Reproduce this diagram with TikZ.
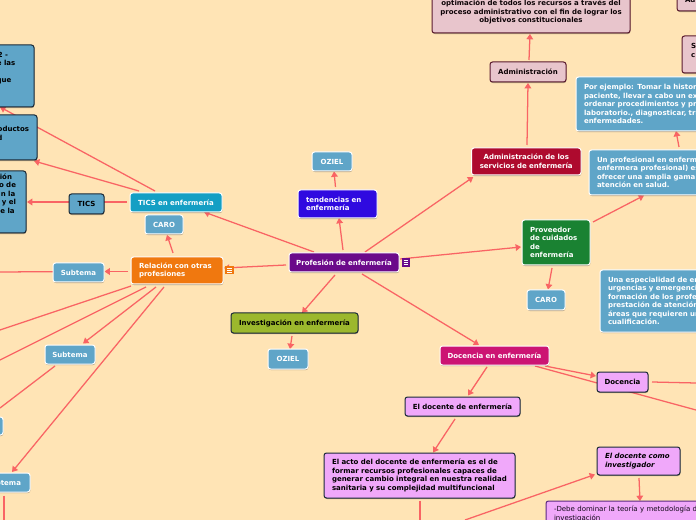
\documentclass[tikz,border=0pt]{standalone}
\usepackage{fontspec}
\setmainfont{DejaVu Sans}
\usetikzlibrary{arrows.meta,shadows,calc}
\pgfdeclarelayer{bg}
\pgfsetlayers{bg,main}
\definecolor{paper}{HTML}{FFE4B5}
\definecolor{conncol}{HTML}{F96464}
\definecolor{bluebox}{HTML}{5FA5C8}
\definecolor{ticsbox}{HTML}{149FC4}
\definecolor{orangebox}{HTML}{F0780F}
\definecolor{purplebox}{HTML}{6B0A8A}
\definecolor{violetbox}{HTML}{2F0AE0}
\definecolor{redbox}{HTML}{AE0A2E}
\definecolor{greenbox}{HTML}{1A8232}
\definecolor{magbox}{HTML}{CC1473}
\definecolor{olivebox}{HTML}{9CB82D}
\definecolor{pinkbox}{HTML}{F0A8FA}
\definecolor{rosebox}{HTML}{E8C5CC}
\definecolor{roseedge}{HTML}{5A1A2E}
\definecolor{pinkedge}{HTML}{5A2A80}
\definecolor{darkedge}{HTML}{1A2A38}
\tikzset{
  x=0.75pt,y=-0.75pt,
  box/.style={rectangle,rounded corners=1.9pt,inner sep=0pt,line width=0.75pt,
    font=\fontsize{5.25pt}{6.4pt}\selectfont\bfseries,
    drop shadow={shadow xshift=0.3pt,shadow yshift=-0.8pt,opacity=.3,fill=black}},
  lightbox/.style={box,draw=white,text=white},
  darkbox/.style={box,draw=darkedge,text=black},
  conn/.style={draw=conncol,line width=0.95pt,-{Triangle[width=5pt,length=4pt]}},
  plainconn/.style={draw=conncol,line width=0.95pt},
  icon/.style={rectangle,inner sep=0pt,minimum width=6.2pt,minimum height=6.2pt,draw=none},
  iconbar/.style={draw=white,line width=0.65pt}
}
% name, x1,y1,x2,y2, pad, style, text
\newcommand{\bx}[8]{%
  \pgfmathsetmacro\bxcx{(#2+#4)/2}%
  \pgfmathsetmacro\bxcy{(#3+#5)/2}%
  \pgfmathsetmacro\bxw{(#4-#2)*0.75}%
  \pgfmathsetmacro\bxh{(#5-#3)*0.75}%
  \pgfmathsetmacro\bxt{(#4-#2-2*#6)*0.75}%
  \node[minimum width=\bxw pt,minimum height=\bxh pt,text width=\bxt pt,#7] (#1) at (\bxcx,\bxcy) {#8};}
% from node + offset to node + offset
\newcommand{\lk}[5][conn]{\draw[#1] ([shift={(#3)}]#2.center) -- ([shift={(#5)}]#4.center);}
\newcommand{\ico}[1]{\foreach \iy in {-2,0,2} \draw[iconbar] ([shift={(-2.4,\iy)}]#1.center) -- ([shift={(2.4,\iy)}]#1.center);}
\begin{document}
\begin{tikzpicture}
\useasboundingbox (0,0) rectangle (696,520);
\begin{scope}
\clip (0,0) rectangle (696,520);
% top
\bx{goal}{432}{-12}{630}{33}{6}{darkbox,draw=roseedge,fill=rosebox,text=black!85!roseedge,align=center}{\mbox{}\\optimación de todos los recursos a través del\\proceso administrativo con el fin de lograr los\\objetivos constitucionales}
\bx{adm}{490}{62}{566}{82}{3}{darkbox,draw=roseedge,fill=rosebox,text=black!85!roseedge,align=center}{Administración}
\bx{admserv}{471.5}{148}{581}{175}{3}{lightbox,fill=redbox,align=center}{Administración de los\\servicios de enfermería}
\bx{cornerA}{677}{-14}{760}{11}{8}{darkbox,draw=roseedge,fill=rosebox,text=black!85!roseedge,align=left}{\mbox{}\\Ad}
\bx{cornerS}{682}{36}{760}{73}{9}{darkbox,draw=roseedge,fill=rosebox,text=black!85!roseedge,align=left}{S\\c\\\mbox{}}
\bx{ejemplo}{576}{77}{800}{131}{8}{lightbox,fill=bluebox,align=left}{Por ejemplo: Tomar la historia\\paciente, llevar a cabo un exa\\ordenar procedimientos y pru\\laboratorio., diagnosticar, trat\\enfermedades.}
\bx{profesional}{589}{150}{800}{195}{8}{lightbox,fill=bluebox,align=left}{Un profesional en enferm\\enfermera profesional) es\\ofrecer una amplia gama\\atención en salud.}
\bx{proveedor}{522}{220}{590}{265}{8}{lightbox,fill=greenbox,align=left}{Proveedor\\de cuidados\\de\\enfermería}
\bx{caroR}{527}{290}{565}{310}{2}{lightbox,fill=bluebox,align=center}{CARO}
\bx{especial}{600}{270}{800}{332}{8}{lightbox,fill=bluebox,align=left}{Una especialidad de enf\\urgencias y emergencia\\formación de los profes\\prestación de atención\\áreas que requieren un\\cualificación.}
% centre
\bx{prof}{289}{253}{399}{272}{2}{lightbox,fill=purplebox,align=center}{Profesión de enfermería}
\bx{tend}{298}{190}{377}{218}{8}{lightbox,fill=violetbox,align=left}{tendencias en\\enfermería}
\bx{ozielT}{312}{152}{352}{171}{2}{lightbox,fill=bluebox,align=center}{OZIEL}
\bx{inv}{231}{313}{358}{333}{2}{darkbox,fill=olivebox,align=center}{Investigación en enfermería}
\bx{ozielB}{268}{349}{308}{369}{2}{lightbox,fill=bluebox,align=center}{OZIEL}
\node[icon,fill=purplebox] (icoP) at (406,262.5) {};
\node[icon,fill=orangebox] (icoO) at (229.5,270) {};
\ico{icoP}
\ico{icoO}
% docencia
\bx{docen}{440}{346}{549}{365}{2}{lightbox,fill=magbox,align=center}{Docencia en enfermería}
\bx{doc}{597}{372}{648}{392}{2}{darkbox,fill=pinkbox,align=center}{Docencia}
\bx{eldoc}{405}{397}{520}{416}{2}{darkbox,fill=pinkbox,align=center}{El docente de enfermería}
\bx{acto}{324}{453}{515}{498}{8}{darkbox,fill=pinkbox,align=left}{El acto del docente de enfermería es el de\\formar recursos profesionales capaces de\\generar cambio integral en nuestra realidad\\sanitaria y su complejidad multifuncional}
\bx{invest}{597}{447}{680}{475}{8}{darkbox,fill=pinkbox,align=left}{\itshape El docente como\\\itshape investigador}
\bx{debe}{546}{501}{800}{527}{8}{darkbox,draw=pinkedge,fill=pinkbox,font=\fontsize{5.25pt}{6.4pt}\selectfont,text=black!80!pinkedge,align=left}{-Debe dominar la teoría y metodología de\\investigación}
% left
\bx{ticsenf}{130}{193}{222}{212}{2}{lightbox,fill=ticsbox,align=center}{TICS en enfermería}
\bx{caroL}{145}{215}{183}{234}{2}{lightbox,fill=bluebox,align=center}{CARO}
\bx{tics}{69}{194}{104}{214}{2}{darkbox,fill=bluebox,align=center}{TICS}
\bx{rel}{131}{257}{223}{284}{8}{lightbox,fill=orangebox,align=left}{Relación con otras\\profesiones}
\bx{subA}{53}{263}{104}{282}{2}{lightbox,fill=bluebox,align=center}{Subtema}
\bx{subB}{45}{345}{95}{364}{2}{lightbox,fill=bluebox,align=center}{Subtema}
\bx{subC}{-30}{473}{30}{492}{2}{lightbox,fill=bluebox,align=right}{Subtema\kern5.25pt}
\bx{stub}{-40}{417}{3}{435}{2}{lightbox,fill=bluebox,align=center}{}
\bx{leftA}{-90}{45}{34}{107}{2}{darkbox,fill=bluebox,align=right}{2 -\kern18pt\\e las\kern12.5pt\\\mbox{}\\que\kern15.5pt\\\mbox{}\\\mbox{}}
\bx{leftB}{-90}{115}{37}{160}{2}{darkbox,fill=bluebox,align=right}{oductos\kern4.5pt\\d\kern24.5pt\\\mbox{}}
\bx{leftC}{-90}{171}{26}{233}{2}{darkbox,fill=bluebox,align=right}{ión\kern9pt\\o de\kern6pt\\n la\kern6.5pt\\y el\kern6pt\\e la\kern7pt\\\mbox{}\\\mbox{}}
\end{scope}
\coordinate (offA) at (0,272);
\coordinate (offB) at (0,330);
\coordinate (offC) at (0,360);
\coordinate (offD) at (0,408);
\coordinate (offE) at (4,520);
\coordinate (offF) at (696,410);
\coordinate (offG) at (696,383);
\coordinate (offH) at (420,520);
\coordinate (offI) at (465,520);
\begin{pgfonlayer}{bg}
\clip (0,0) rectangle (696,520);
\fill[paper] (0,0) rectangle (696,520);
\lk{prof}{-1,-12.5}{tend}{1.5,14}
\lk{tend}{-2,-17}{ozielT}{2,10}
\lk{prof}{21,-10.5}{admserv}{-53,15.5}
\lk{admserv}{0.75,-16.5}{adm}{0,11}
\lk{adm}{1,-12}{goal}{-1,23.5}
\lk{prof}{56,-3.5}{proveedor}{-35,4.5}
\lk{proveedor}{37,-20.5}{profesional}{-50.5,23}
\lk{profesional}{-15.5,-25.5}{ejemplo}{-12,27}
\lk{proveedor}{-4,25.5}{caroR}{2,-10.5}
\lk{prof}{18,11.5}{docen}{-15.5,-10.5}
\lk{prof}{-9,12.5}{inv}{7.5,-10}
\lk{inv}{-2.5,13}{ozielB}{2,-10}
\lk{prof}{-58,2.5}{rel}{47,-2.5}
\lk{prof}{-30,-10.5}{ticsenf}{28,9.5}
\lk{rel}{-4,-17.5}{caroL}{3,10.5}
\lk[plainconn]{ticsenf}{-49,-0.5}{tics}{0,-2}
\lk{tics}{0,-2}{leftC}{59,0}
\lk{ticsenf}{-37,-11.5}{leftB}{60.5,23.5}
\lk{ticsenf}{-21,-11.5}{leftA}{28,31}
\lk{rel}{-49,1}{subA}{26,-1}
\lk[plainconn]{subA}{0,-1}{offA}{0,0}
\lk[plainconn]{rel}{-46,15.5}{offB}{0,0}
\lk[plainconn]{rel}{-31,16.5}{offC}{0,0}
\lk{rel}{-21,16.5}{subB}{13,-11}
\lk{rel}{-13,16.5}{subC}{12,-10.5}
\lk[plainconn]{subB}{-15,11.5}{offD}{0,0}
\lk[plainconn]{subC}{4,13}{offE}{0,0}
\lk{docen}{50.5,10.5}{doc}{-26.5,-6}
\lk[plainconn]{docen}{40.5,10.5}{offF}{0,0}
\lk[plainconn]{doc}{29.5,0}{offG}{0,0}
\lk{docen}{-7.5,11.5}{eldoc}{5.5,-11}
\lk{eldoc}{-7.5,12.5}{acto}{13.5,-23}
\lk[plainconn]{acto}{0.5,25}{offH}{0,0}
\lk{offI}{0,0}{invest}{-43.5,13.5}
\lk{invest}{0.5,17}{debe}{-33,-13}
\end{pgfonlayer}
\end{tikzpicture}
\end{document}
